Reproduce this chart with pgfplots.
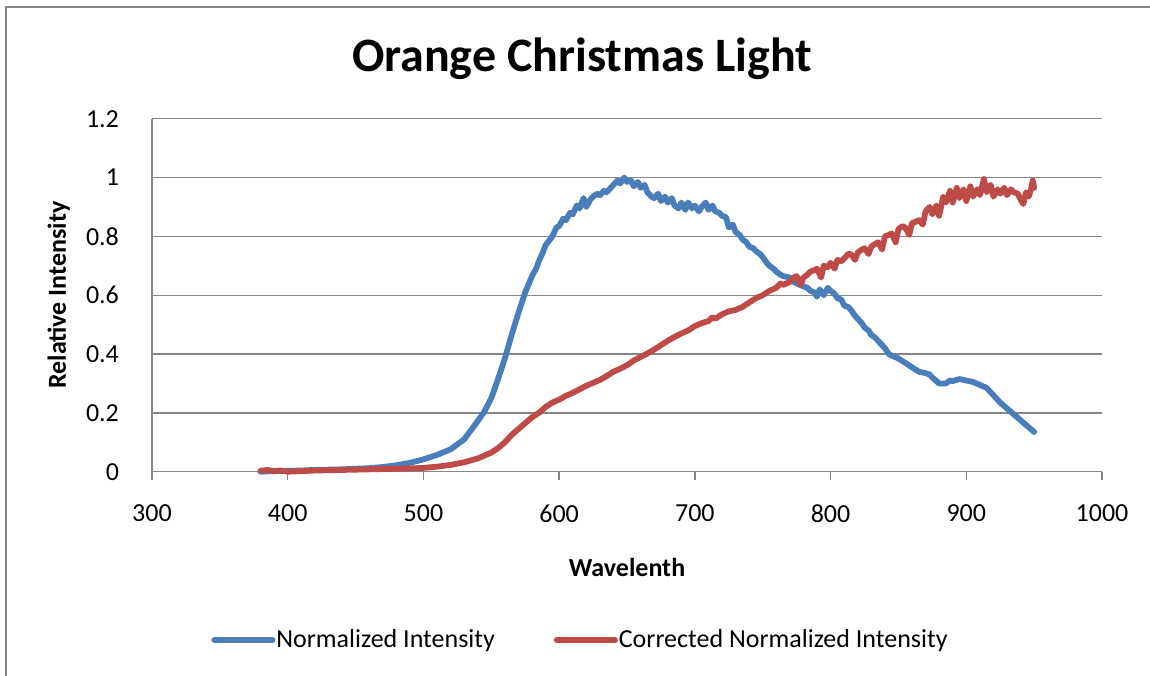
\documentclass[border=0pt]{standalone}
\usepackage{fontspec}
\setmainfont{Carlito}
\usepackage{pgfplots}
\pgfplotsset{compat=1.18}

\definecolor{xlblue}{RGB}{74,126,187}
\definecolor{xlred}{RGB}{190,75,72}
\definecolor{xlgray}{RGB}{134,134,134}

\begin{document}
\begin{tikzpicture}
% page = 1150 x 675 px at 0.5pt per px
\useasboundingbox (0,0) rectangle (575pt,337.5pt);
\draw[xlgray, line width=1pt] (3pt,-5pt) -- (3pt,334pt) -- (580pt,334pt);

\node[font=\fontsize{24}{29}\selectfont\bfseries, anchor=base] at (291pt,301.6pt) {Orange Christmas Light};

\begin{axis}[
    at={(76pt,101.65pt)}, anchor=south west,
    scale only axis,
    width=475pt, height=176.5pt,
    xmin=300, xmax=1000, ymin=0, ymax=1.2,
    xtick={300,400,...,1000},
    ytick={0,0.2,...,1.2},
    yticklabels={0,0.2,0.4,0.6,0.8,1,1.2},
    xticklabel style={/pgf/number format/1000 sep={}},
    axis x line*=bottom, axis y line*=left,
    axis line style={xlgray, line width=0.7pt, -},
    ymajorgrids,
    grid style={xlgray, line width=0.7pt},
    xtick style={xlgray, line width=0.7pt},
    tick align=outside,
    major tick length=4pt,
    ytick style={draw=none},
    /pgf/number format/assume math mode=true,
    tick label style={font=\fontsize{13}{16}\selectfont, black},
    yticklabel style={xshift=-9pt},
    xticklabel style={yshift=-9pt},
    xlabel={Wavelenth},
    ylabel={Relative Intensity},
    label style={font=\fontsize{13}{16}\selectfont\bfseries},
    xlabel style={at={(axis description cs:0.5,-0.296)}, anchor=base},
    ylabel style={at={(axis description cs:-0.098,0.5)}, anchor=center, rotate=0},
    legend columns=2,
    legend style={at={(axis description cs:0.4505,-0.4768)}, anchor=center,
        draw=none, fill=none, font=\fontsize{13}{16}\selectfont,
        nodes={inner xsep=0.5pt},
        /tikz/every even column/.append style={column sep=29pt}},
    legend image code/.code={\draw[#1, line width=3pt, line cap=round] (0pt,0pt) -- (29pt,0pt);},
    every axis plot/.append style={line width=2.9pt, line join=round, line cap=round},
    clip=false,
]
\addplot[xlblue] coordinates {
(380,0.000) (390,0.002) (400,0.003) (410,0.004) (420,0.006) (430,0.007)
(440,0.008) (450,0.010) (460,0.012) (470,0.016) (480,0.022) (490,0.030)
(500,0.042) (510,0.057) (520,0.076) (530,0.110) (540,0.172) (545,0.205)
(550,0.250) (555,0.315) (560,0.385) (565,0.465) (570,0.540) (575,0.610)
(580,0.665) (583,0.690) (585,0.715) (588,0.745) (590,0.770) (595,0.800)
(598,0.830) (600,0.835) (603,0.860) (605,0.855) (608,0.880) (610,0.875)
(613,0.905) (615,0.895) (618,0.930) (620,0.900) (623,0.925) (625,0.935)
(628,0.945) (630,0.940) (633,0.955) (635,0.950) (638,0.965) (640,0.975)
(643,0.990) (645,0.980) (648,1.000) (650,0.985) (653,0.990) (655,0.970)
(658,0.985) (660,0.965) (663,0.975) (665,0.950) (668,0.935) (670,0.930)
(673,0.945) (675,0.920) (678,0.935) (680,0.915) (683,0.930) (685,0.905)
(688,0.895) (690,0.915) (693,0.890) (695,0.915) (698,0.895) (700,0.905)
(703,0.885) (705,0.900) (708,0.915) (710,0.890) (713,0.905) (715,0.885)
(718,0.880) (720,0.870) (723,0.865) (725,0.830) (728,0.840) (730,0.815)
(733,0.805) (735,0.790) (738,0.780) (740,0.765) (743,0.760) (745,0.750)
(748,0.740) (750,0.730) (753,0.710) (755,0.700) (758,0.690) (760,0.680)
(763,0.670) (765,0.665) (770,0.660) (773,0.645) (775,0.640) (780,0.630)
(783,0.625) (785,0.615) (788,0.610) (790,0.595) (792,0.620) (795,0.600)
(798,0.625) (800,0.615) (803,0.605) (805,0.590) (808,0.585) (810,0.565)
(813,0.560) (815,0.550) (818,0.530) (820,0.520) (823,0.505) (825,0.490)
(828,0.480) (830,0.465) (833,0.455) (835,0.445) (838,0.430) (840,0.420)
(843,0.400) (845,0.395) (850,0.385) (855,0.370) (860,0.355) (865,0.340)
(870,0.335) (873,0.330) (875,0.320) (880,0.300) (885,0.300) (888,0.310)
(890,0.308) (895,0.315) (900,0.310) (905,0.305) (910,0.295) (915,0.285)
(920,0.260) (925,0.235) (930,0.215) (935,0.195) (940,0.175) (945,0.155)
(950,0.135)
};
\addlegendentry{Normalized Intensity}
\addplot[xlred] coordinates {
(380,0.003) (385,0.006) (390,0.002) (395,0.004) (400,0.000) (410,0.002)
(420,0.004) (430,0.005) (440,0.006) (450,0.007) (460,0.008) (470,0.009)
(480,0.010) (490,0.011) (500,0.013) (510,0.017) (520,0.023) (530,0.032)
(540,0.045) (550,0.065) (555,0.080) (560,0.100) (565,0.125) (570,0.145)
(575,0.165) (580,0.185) (585,0.200) (590,0.220) (595,0.235) (600,0.245)
(605,0.258) (610,0.268) (615,0.280) (620,0.292) (625,0.302) (630,0.312)
(635,0.325) (640,0.340) (645,0.350) (650,0.362) (655,0.378) (660,0.390)
(665,0.402) (670,0.415) (675,0.430) (680,0.445) (685,0.458) (690,0.470)
(695,0.480) (700,0.495) (705,0.505) (710,0.512) (713,0.525) (715,0.520)
(720,0.535) (725,0.545) (730,0.550) (735,0.560) (740,0.575) (745,0.590)
(750,0.600) (755,0.615) (760,0.625) (763,0.640) (765,0.635) (770,0.645)
(773,0.660) (775,0.665) (778,0.635) (780,0.660) (783,0.670) (785,0.680)
(788,0.685) (790,0.690) (793,0.660) (795,0.700) (798,0.695) (800,0.710)
(803,0.690) (805,0.720) (808,0.715) (810,0.725) (813,0.740) (815,0.740)
(818,0.720) (820,0.745) (823,0.755) (825,0.760) (828,0.740) (830,0.765)
(833,0.775) (835,0.780) (838,0.755) (840,0.800) (843,0.805) (845,0.810)
(848,0.780) (850,0.825) (853,0.835) (855,0.830) (858,0.805) (860,0.845)
(863,0.850) (865,0.855) (868,0.840) (870,0.885) (873,0.900) (875,0.875)
(878,0.905) (880,0.870) (883,0.935) (885,0.915) (888,0.955) (890,0.915)
(893,0.965) (895,0.930) (898,0.960) (900,0.920) (903,0.970) (905,0.935)
(908,0.960) (910,0.940) (913,0.995) (915,0.950) (918,0.975) (920,0.935)
(923,0.960) (925,0.945) (928,0.965) (930,0.940) (933,0.960) (935,0.950)
(938,0.945) (940,0.925) (942,0.910) (944,0.950) (946,0.935) (948,0.965)
(949,0.990) (950,0.965)
};
\addlegendentry{Corrected Normalized Intensity}
\end{axis}
\end{tikzpicture}
\end{document}
